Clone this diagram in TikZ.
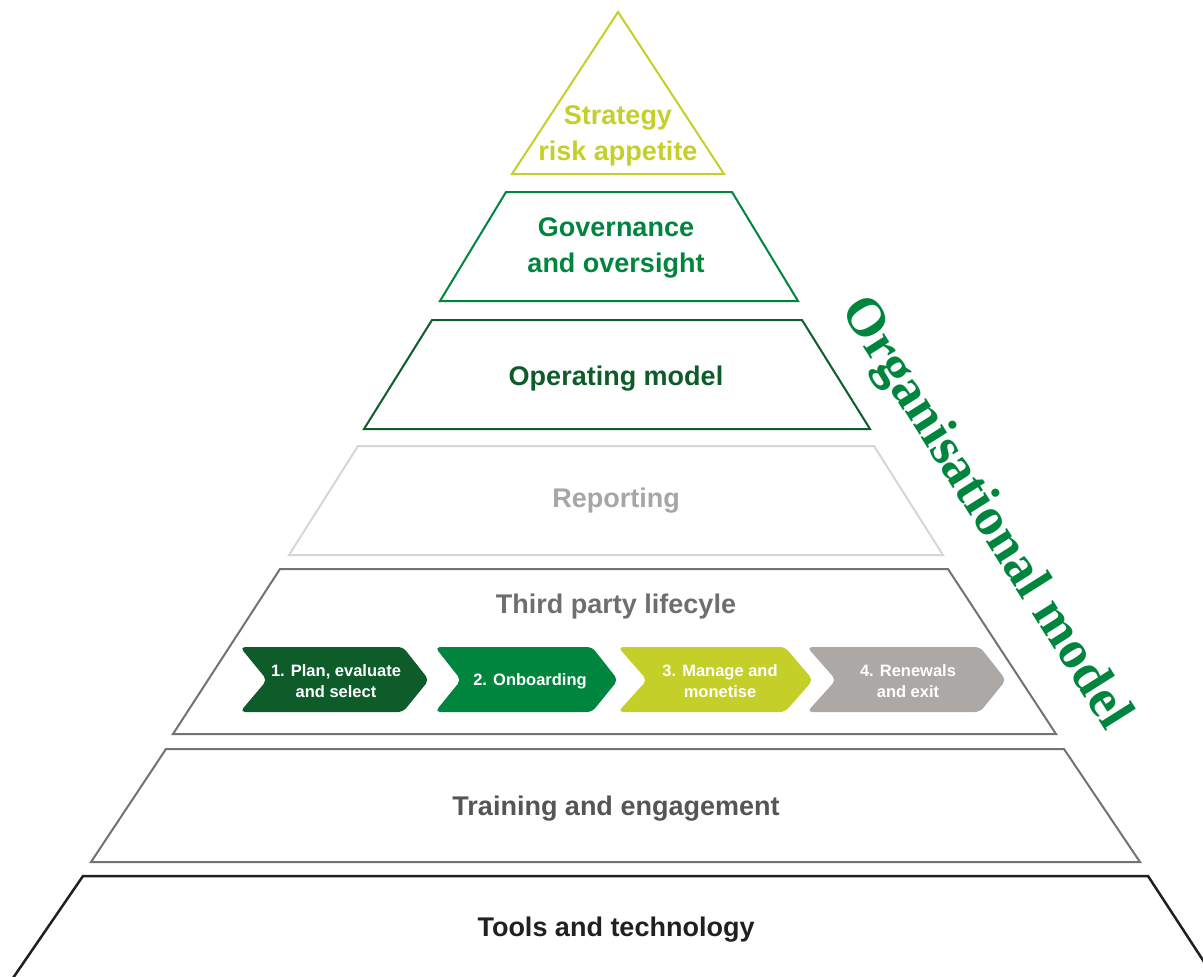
\documentclass[tikz,border=0pt]{standalone}
\usepackage{fontspec}
\setmainfont{Liberation Sans}
\newfontfamily\orgfont{Liberation Serif}
\definecolor{lime}{HTML}{C4CF2A}
\definecolor{grn}{HTML}{00853E}
\definecolor{dgrn}{HTML}{0F5C2B}
\definecolor{lgray}{HTML}{D6D6D6}
\definecolor{rtext}{HTML}{A6A6A6}
\definecolor{mgray}{HTML}{727272}
\definecolor{tptext}{HTML}{6E6E6E}
\definecolor{cgray}{HTML}{ABA8A6}
\definecolor{trtext}{HTML}{555555}
\definecolor{blk}{HTML}{231F20}
\begin{document}
\begin{tikzpicture}[x=1pt,y=-1pt,
  layer/.style={line width=2pt, line join=miter},
  lbl/.style={font=\fontsize{27}{36}\selectfont\bfseries, align=center, inner sep=0pt},
  chev/.style={rounded corners=5pt},
  ctext/.style={font=\fontsize{16.5}{21}\selectfont\bfseries, text=white, align=center, inner sep=0pt}]
\useasboundingbox (0,0) rectangle (1203,977);
\clip (0,0) rectangle (1203,977);
% pyramid layers
\draw[layer, draw=lime] (618,12) -- (724,174) -- (512,174) -- cycle;
\draw[layer, draw=grn] (506,192) -- (732,192) -- (798,301) -- (440,301) -- cycle;
\draw[layer, draw=dgrn] (432,320) -- (802,320) -- (870,429) -- (364,429) -- cycle;
\draw[layer, draw=lgray] (358,446) -- (874,446) -- (943,555) -- (289,555) -- cycle;
\draw[layer, draw=mgray] (280,569) -- (948,569) -- (1056,734) -- (173,734) -- cycle;
\draw[layer, draw=mgray] (166,749) -- (1064,749) -- (1140,862) -- (91,862) -- cycle;
\draw[line width=2.5pt, draw=blk] (0,997) -- (83,876) -- (1148,876) -- (1227,997);
% labels
\node[lbl, text=lime] (strategy) at (618,136) {Strategy\\risk appetite};
\node[lbl, text=grn] (gov) at (616,248) {Governance\\and oversight};
\node[lbl, text=dgrn] (op) at (616,379) {Operating model};
\node[lbl, text=rtext] (rep) at (616,501) {Reporting};
\node[lbl, text=tptext] (tp) at (616,607) {Third party lifecyle};
\node[lbl, text=trtext] (train) at (616,809) {Training and engagement};
\node[lbl, text=blk] (tools) at (616,930) {Tools and technology};
% chevrons
\fill[chev, fill=dgrn] (240,647) -- (403,647) -- (429,680) -- (403,712) -- (240,712) -- (267,680) -- cycle;
\fill[chev, fill=grn] (435,647) -- (592,647) -- (618,680) -- (592,712) -- (435,712) -- (461,680) -- cycle;
\fill[chev, fill=lime] (618,647) -- (785,647) -- (813,680) -- (785,712) -- (618,712) -- (647,680) -- cycle;
\fill[chev, fill=cgray] (807,647) -- (980,647) -- (1006,680) -- (980,712) -- (807,712) -- (836,680) -- cycle;
\node[ctext] (c1) at (336,681) {1. Plan, evaluate\\and select};
\node[ctext] (c2) at (530,681) {2. Onboarding};
\node[ctext] (c3) at (720,681) {3. Manage and\\monetise};
\node[ctext] (c4) at (908,681) {4. Renewals\\and exit};
% side label
\node[font=\orgfont\bfseries\fontsize{54}{60}\selectfont, text=grn, rotate=-57.8, inner sep=0pt] (org) at (984,514) {Organisational model};
\end{tikzpicture}
\end{document}
